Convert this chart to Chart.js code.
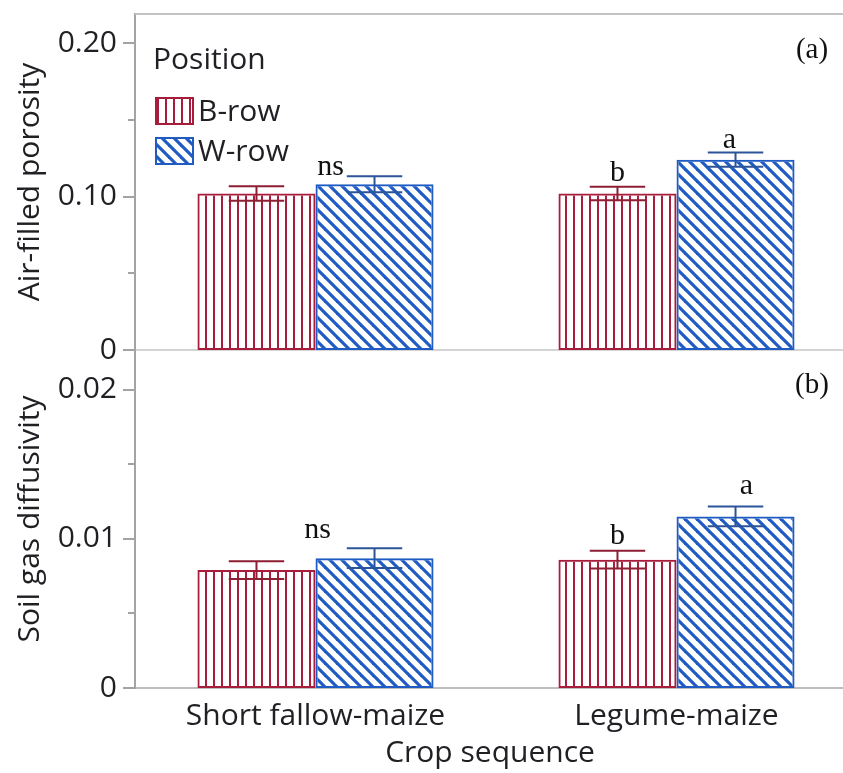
<!DOCTYPE html>
<html>
<head>
<meta charset="utf-8">
<script src="https://cdn.jsdelivr.net/npm/chart.js@4.4.1/dist/chart.umd.min.js"></script>
<style>
  html, body { margin: 0; padding: 0; background: #fff; overflow: hidden; }
  #wrap { position: relative; width: 843px; height: 773px; overflow: hidden; background: #fff; }
  #top { position: absolute; left: 0; top: 0; z-index: 2; }
  #bottom { position: absolute; left: 0; top: 350px; z-index: 1; }
</style>
</head>
<body>
<div id="wrap">
  <canvas id="top" width="857" height="362"></canvas>
  <canvas id="bottom" width="857" height="423"></canvas>
</div>
<script>
// ---- data ----
const CATEGORIES = ['Short fallow-maize', 'Legume-maize'];
const SERIES = ['B-row', 'W-row'];

// (a) air-filled porosity, mean and standard error
const AFP_B = [0.102, 0.102];
const AFP_B_SE = [0.0047, 0.0044];
const AFP_W = [0.108, 0.124];
const AFP_W_SE = [0.0052, 0.0046];
const AFP_LETTERS_B = [null, 'b'];
const AFP_LETTERS_W = [null, 'a'];
const AFP_GROUP = ['ns', null];
const AFP_TICKS = [0, 0.10, 0.20];
const AFP_TICK_LABELS = ['0', '0.10', '0.20'];
const AFP_MINOR = [0.05, 0.15];

// (b) soil gas diffusivity, mean and standard error
const SGD_B = [0.0079, 0.0086];
const SGD_B_SE = [0.0006, 0.0006];
const SGD_W = [0.0087, 0.0115];
const SGD_W_SE = [0.00066, 0.00066];
const SGD_LETTERS_B = [null, 'b'];
const SGD_LETTERS_W = [null, 'a'];
const SGD_GROUP = ['ns', null];
const SGD_TICKS = [0, 0.01, 0.02];
const SGD_TICK_LABELS = ['0', '0.01', '0.02'];
const SGD_MINOR = [0.005, 0.015];

// ---- styles ----
const FONT = "'Open Sans', 'Noto Sans', sans-serif";
const SERIF = "'Liberation Serif', 'Times New Roman', serif";
const SIZE = 30;
const TEXT = '#1f1f24';
const RED = '#a81c3c';
const RED_ERR = '#8c1f34';
const BLUE = '#1f5bc2';
const BLUE_ERR = '#2b5499';
const AXIS = '#a3a3a3';

Chart.defaults.font.family = FONT;
Chart.defaults.font.size = SIZE;
Chart.defaults.color = TEXT;

function stripePattern(color) {
  const c = document.createElement('canvas');
  c.width = 8; c.height = 8;
  const g = c.getContext('2d');
  g.fillStyle = color;
  g.fillRect(5, 0, 2, 8);
  return g.createPattern(c, 'repeat');
}
function hatchPattern(color) {
  const P = 12;
  const c = document.createElement('canvas');
  c.width = P; c.height = P;
  const g = c.getContext('2d');
  g.strokeStyle = color;
  g.lineWidth = 3.2;
  [-P, 0, P].forEach(k => {
    g.beginPath();
    g.moveTo(-3, -3 + k);
    g.lineTo(P + 3, P + 3 + k);
    g.stroke();
  });
  return g.createPattern(c, 'repeat');
}
const RED_FILL = stripePattern(RED);
const BLUE_FILL = hatchPattern(BLUE);

// error bars, significance letters, minor ticks, legend and panel tags
const decorations = {
  id: 'decorations',
  afterDatasetsDraw(chart, args, o) {
    const ctx = chart.ctx, y = chart.scales.y;
    const caps = [];
    chart.data.datasets.forEach((ds, di) => {
      const meta = chart.getDatasetMeta(di);
      caps[di] = [];
      meta.data.forEach((bar, i) => {
        const v = ds.data[i], e = ds.errors[i];
        const hi = y.getPixelForValue(v + e), lo = y.getPixelForValue(v - e);
        const half = bar.width * 0.235;
        caps[di][i] = hi;
        ctx.save();
        ctx.strokeStyle = ds.errorColor;
        ctx.lineWidth = 2;
        ctx.beginPath();
        ctx.moveTo(bar.x - half, hi); ctx.lineTo(bar.x + half, hi);
        ctx.moveTo(bar.x - half, lo); ctx.lineTo(bar.x + half, lo);
        ctx.moveTo(bar.x, hi); ctx.lineTo(bar.x, lo);
        ctx.stroke();
        ctx.restore();
        const t = ds.letters[i];
        if (t) {
          const n = o.nudge[di];
          ctx.save();
          ctx.font = '30px ' + SERIF;
          ctx.fillStyle = '#111';
          ctx.textAlign = 'center';
          ctx.textBaseline = 'alphabetic';
          ctx.fillText(t, bar.x + n.dx, hi - n.dy);
          ctx.restore();
        }
      });
    });
    o.group.forEach((t, i) => {
      if (!t) return;
      const m0 = chart.getDatasetMeta(0).data[i], m1 = chart.getDatasetMeta(1).data[i];
      const cx = (m0.x + m1.x) / 2;
      const top = Math.min(caps[0][i], caps[1][i]);
      ctx.save();
      ctx.font = '30px ' + SERIF;
      ctx.fillStyle = '#111';
      ctx.textAlign = 'center';
      ctx.fillText(t, cx + o.groupNudge.dx, top - o.groupNudge.dy);
      ctx.restore();
    });
  },
  afterDraw(chart, args, o) {
    const ctx = chart.ctx, s = chart.scales.y, a = chart.chartArea;
    // tick marks on the value axis
    ctx.save();
    ctx.strokeStyle = AXIS;
    ctx.lineWidth = 2;
    ctx.beginPath();
    s.ticks.forEach(t => {
      const p = Math.round(s.getPixelForValue(t.value));
      ctx.moveTo(a.left - 12, p); ctx.lineTo(a.left, p);
    });
    o.minor.forEach(v => {
      const p = Math.round(s.getPixelForValue(v));
      ctx.moveTo(a.left - 7, p); ctx.lineTo(a.left, p);
    });
    ctx.stroke();
    if (o.topLine) {
      ctx.strokeStyle = '#c2c2c2';
      ctx.beginPath();
      ctx.moveTo(a.left, a.top); ctx.lineTo(chart.width, a.top);
      ctx.stroke();
    }
    ctx.restore();

    // panel tag
    ctx.save();
    ctx.font = '29px ' + SERIF;
    ctx.fillStyle = '#111';
    ctx.textAlign = 'center';
    ctx.fillText(o.tag, chart.width - 45, a.top + o.tagDy);
    ctx.restore();

    if (o.legend) {
      const L = a.left;
      ctx.save();
      ctx.font = SIZE + 'px ' + FONT;
      ctx.fillStyle = TEXT;
      ctx.textAlign = 'left';
      ctx.textBaseline = 'alphabetic';
      ctx.fillText(o.legend, L + 18, a.top + 55);
      chart.data.datasets.forEach((ds, i) => {
        const bx = L + 20, by = a.top + 83 + i * 40, bw = 39, bh = 28;
        ctx.fillStyle = ds.backgroundColor;
        ctx.fillRect(bx, by, bw, bh);
        ctx.strokeStyle = ds.borderColor;
        ctx.lineWidth = 2;
        ctx.strokeRect(bx + 1, by + 1, bw - 2, bh - 2);
        ctx.fillStyle = TEXT;
        ctx.fillText(ds.label, bx + bw + 4, by + bh / 2 + 10);
      });
      ctx.restore();
    }
    if (o.xTitle) {
      ctx.save();
      ctx.font = SIZE + 'px ' + FONT;
      ctx.fillStyle = TEXT;
      ctx.textAlign = 'center';
      ctx.textBaseline = 'middle';
      ctx.fillText(o.xTitle, a.left + 355, a.bottom + 65);
      ctx.restore();
    }
  }
};

function makeDatasets(b, bse, bl, w, wse, wl) {
  return [
    { label: SERIES[0], data: b, errors: bse, letters: bl, errorColor: RED_ERR,
      backgroundColor: RED_FILL, borderColor: RED, borderWidth: 2, borderSkipped: false },
    { label: SERIES[1], data: w, errors: wse, letters: wl, errorColor: BLUE_ERR,
      backgroundColor: BLUE_FILL, borderColor: BLUE, borderWidth: 2, borderSkipped: false }
  ];
}

function noPad(s) {
  s.paddingTop = 0; s.paddingBottom = 0; s.paddingLeft = 0; s.paddingRight = 0;
}

function yAxis(max, ticks, labels, title) {
  return {
    min: 0, max: max,
    afterBuildTicks: s => { s.ticks = ticks.map(v => ({ value: v })); },
    afterFit: s => { s.width = 135; noPad(s); },
    ticks: { padding: 18, callback: (v, i) => labels[i], font: { size: SIZE }, color: TEXT },
    grid: { display: false, drawTicks: false },
    border: { display: true, color: AXIS, width: 2 },
    title: { display: true, text: title, font: { size: SIZE }, color: TEXT, padding: { top: 12, bottom: 0 } }
  };
}

const common = {
  responsive: false,
  animation: false,
  events: [],
  categoryPercentage: 0.654,
  barPercentage: 1.0
};

new Chart(document.getElementById('top'), {
  type: 'bar',
  data: { labels: CATEGORIES, datasets: makeDatasets(AFP_B, AFP_B_SE, AFP_LETTERS_B, AFP_W, AFP_W_SE, AFP_LETTERS_W) },
  options: Object.assign({}, common, {
    layout: { padding: { top: 14, bottom: 12, left: 0, right: 0 } },
    scales: {
      x: {
        ticks: { display: false },
        grid: { display: false, drawTicks: false },
        border: { display: true, color: '#d4d4d4', width: 2 },
        afterFit: s => { s.height = 0; noPad(s); }
      },
      y: yAxis(0.2189, AFP_TICKS, AFP_TICK_LABELS, 'Air-filled porosity')
    },
    plugins: {
      legend: { display: false },
      tooltip: { enabled: false },
      decorations: {
        minor: AFP_MINOR, topLine: true, tag: '(a)', tagDy: 44,
        legend: 'Position', xTitle: null,
        group: AFP_GROUP, groupNudge: { dx: 15, dy: 1 },
        nudge: [{ dx: 0, dy: 6 }, { dx: -6, dy: 5 }]
      }
    }
  }),
  plugins: [decorations]
});

new Chart(document.getElementById('bottom'), {
  type: 'bar',
  data: { labels: CATEGORIES, datasets: makeDatasets(SGD_B, SGD_B_SE, SGD_LETTERS_B, SGD_W, SGD_W_SE, SGD_LETTERS_W) },
  options: Object.assign({}, common, {
    layout: { padding: 0 },
    scales: {
      x: {
        ticks: { padding: 10, font: { size: SIZE }, color: TEXT, maxRotation: 0 },
        grid: { display: false, drawTicks: false },
        border: { display: true, color: '#bdbdbd', width: 2 },
        afterFit: s => { s.height = 85; noPad(s); }
      },
      y: yAxis(0.02265, SGD_TICKS, SGD_TICK_LABELS, 'Soil gas diffusivity')
    },
    plugins: {
      legend: { display: false },
      tooltip: { enabled: false },
      decorations: {
        minor: SGD_MINOR, topLine: false, tag: '(b)', tagDy: 43,
        legend: null, xTitle: 'Crop sequence',
        group: SGD_GROUP, groupNudge: { dx: 2, dy: 10 },
        nudge: [{ dx: 0, dy: 7 }, { dx: 11, dy: 13 }]
      }
    }
  }),
  plugins: [decorations]
});
</script>
</body>
</html>
